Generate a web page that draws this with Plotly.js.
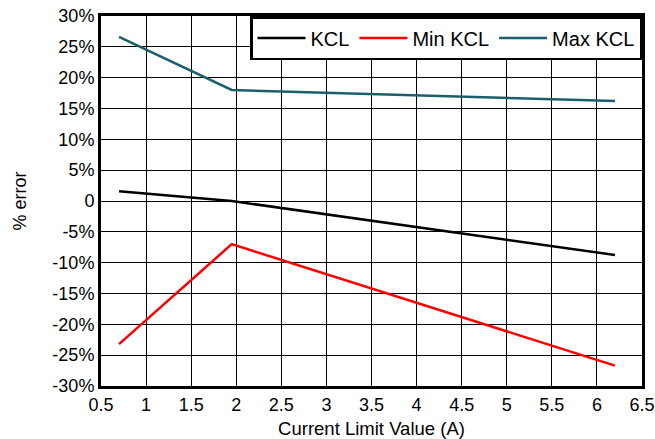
<!DOCTYPE html>
<html>
<head>
<meta charset="utf-8">
<script src="https://cdn.plot.ly/plotly-3.0.1.min.js"></script>
<style>html,body{margin:0;padding:0;background:#fff;}#chart{width:655px;height:439px;}</style>
</head>
<body>
<div id="chart"></div>
<script>
var currentA = [0.7, 1.95, 6.2];
var kcl = [1.6, 0.0, -8.75];
var minKcl = [-23.2, -7.0, -26.7];
var maxKcl = [26.6, 18.0, 16.2];
var seriesNames = ['KCL', 'Min KCL', 'Max KCL'];
var seriesColors = ['#000000', '#ff0000', '#1b5e6c'];
var yTickVals = [30, 25, 20, 15, 10, 5, 0, -5, -10, -15, -20, -25, -30];
var yTickText = ['30%', '25%', '20%', '15%', '10%', '5%', '0', '-5%', '-10%', '-15%', '-20%', '-25%', '-30%'];
var xTickVals = [0.5, 1, 1.5, 2, 2.5, 3, 3.5, 4, 4.5, 5, 5.5, 6, 6.5];
var xTickText = ['0.5', '1', '1.5', '2', '2.5', '3', '3.5', '4', '4.5', '5', '5.5', '6', '6.5'];

var ys = [kcl, minKcl, maxKcl];
var traces = ys.map(function (y, i) {
  return {
    x: currentA, y: y, name: seriesNames[i], mode: 'lines', type: 'scatter',
    line: {color: seriesColors[i], width: 2.5}
  };
});

var font = {family: '"Liberation Sans", Arial, sans-serif', color: '#000'};
var layout = {
  width: 655, height: 439,
  margin: {l: 101, r: 13, t: 16, b: 53},
  paper_bgcolor: '#fff', plot_bgcolor: '#fff',
  font: font,
  showlegend: true,
  legend: {
    orientation: 'h', x: 1, y: 1, xanchor: 'right', yanchor: 'top',
    bgcolor: '#fff', bordercolor: '#000', borderwidth: 2.5,
    itemwidth: 48,
    font: {family: font.family, size: 20, color: '#000'},
    traceorder: 'normal'
  },
  xaxis: {
    range: [0.5, 6.5], tickvals: xTickVals, ticktext: xTickText,
    showgrid: true, gridcolor: '#000', gridwidth: 1,
    showline: true, linecolor: '#000', linewidth: 3, mirror: true,
    zeroline: false, ticks: '', tickfont: {family: font.family, size: 18, color: '#000'},
    title: {text: 'Current Limit Value (A)', font: {family: font.family, size: 18.5, color: '#000'}, standoff: 10}
  },
  yaxis: {
    range: [-30, 30], tickvals: yTickVals, ticktext: yTickText,
    showgrid: true, gridcolor: '#000', gridwidth: 1,
    showline: true, linecolor: '#000', linewidth: 3, mirror: true,
    zeroline: false, ticks: '', tickfont: {family: font.family, size: 18, color: '#000'},
    title: {text: '% error', font: {family: font.family, size: 18, color: '#000'}, standoff: 22}
  }
};
Plotly.newPlot('chart', traces, layout, {displayModeBar: false, staticPlot: true});
</script>
</body>
</html>
